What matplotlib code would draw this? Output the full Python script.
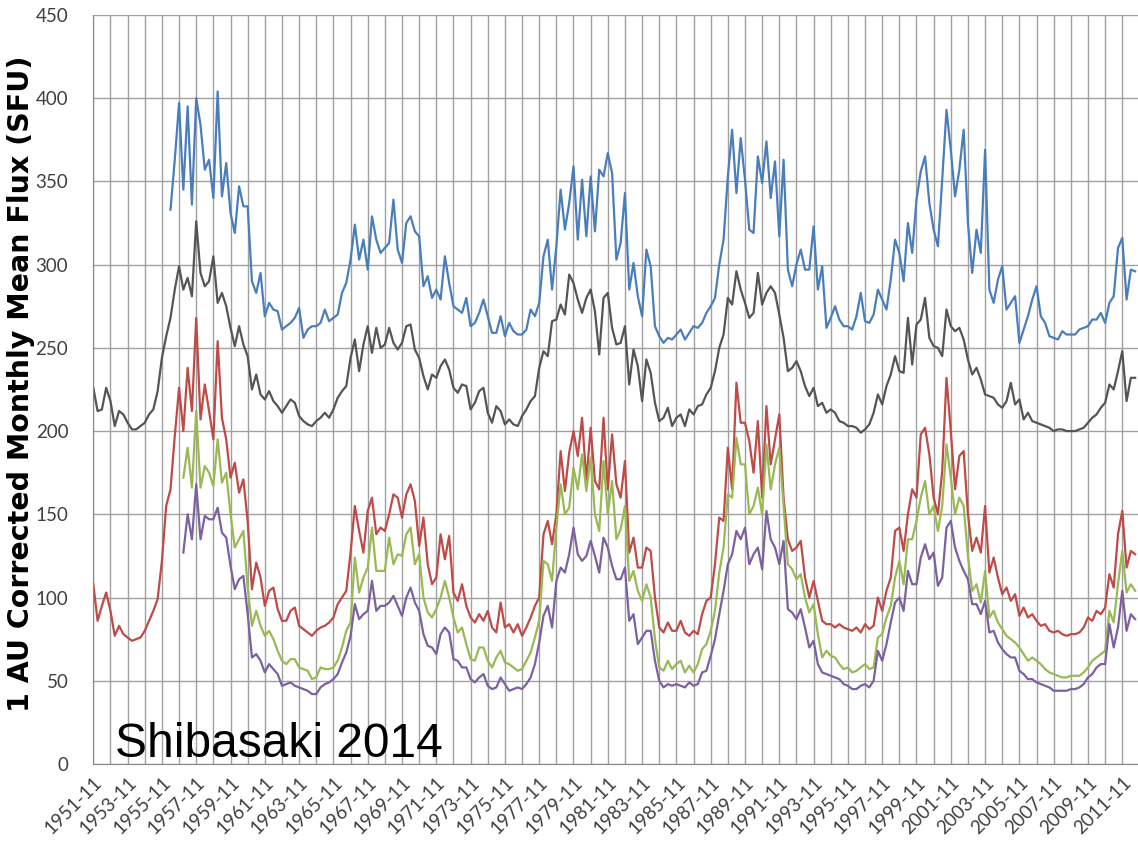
import numpy as np
import matplotlib
matplotlib.use("Agg")
import matplotlib.pyplot as plt

# quarterly samples (Nov, Feb, May, Aug) from 1951-11, month index 0, 3, 6, ...
months = np.arange(0, 732, 3)
nan = np.nan

red = [108, 86, 95, 103, 92, 77, 83, 78, 76, 74, 75, 76, 80, 86, 92, 99,
       122, 155, 165, 197, 226, 200, 238, 212, 268, 207, 228, 212, 195, 254, 208, 195,
       172, 181, 163, 171, 146, 105, 121, 112, 95, 104, 106, 93, 86, 86, 92, 94,
       83, 81, 79, 77, 80, 82, 83, 85, 88, 96, 100, 104, 127, 155, 140, 127,
       152, 160, 138, 142, 140, 150, 162, 160, 148, 162, 168, 158, 131, 148, 120, 108,
       112, 138, 123, 137, 103, 98, 108, 95, 88, 85, 90, 86, 92, 82, 79, 97,
       82, 84, 79, 84, 77, 82, 88, 95, 100, 138, 146, 132, 150, 188, 164, 187,
       200, 185, 208, 170, 202, 170, 165, 208, 165, 198, 168, 160, 182, 127, 136, 118,
       118, 130, 128, 100, 82, 79, 85, 80, 80, 86, 79, 77, 80, 78, 90, 98,
       100, 120, 148, 146, 190, 165, 229, 205, 205, 194, 175, 206, 160, 215, 180, 195,
       210, 160, 135, 128, 130, 134, 112, 100, 110, 98, 86, 84, 84, 82, 84, 82,
       81, 80, 82, 79, 84, 81, 83, 100, 92, 104, 112, 140, 142, 128, 150, 165,
       160, 198, 202, 186, 160, 150, 176, 232, 200, 165, 185, 188, 150, 128, 136, 127,
       155, 115, 124, 112, 102, 106, 98, 102, 89, 94, 88, 90, 86, 83, 84, 80,
       79, 80, 78, 77, 78, 78, 79, 82, 88, 86, 92, 90, 94, 114, 106, 138,
       152, 118, 128, 126]

grey = [226, 212, 213, 226, 218, 203, 212, 210, 205, 201, 201, 203, 205, 210, 213, 224,
        244, 257, 268, 285, 299, 285, 292, 281, 326, 295, 287, 290, 305, 277, 283, 275,
        262, 251, 263, 252, 245, 225, 234, 222, 219, 224, 218, 215, 211, 215, 219, 217,
        209, 206, 204, 203, 206, 208, 211, 208, 213, 220, 224, 227, 244, 255, 236, 252,
        263, 247, 262, 250, 252, 262, 253, 249, 253, 263, 264, 249, 244, 233, 225, 234,
        232, 239, 243, 237, 226, 223, 228, 227, 213, 217, 224, 226, 211, 205, 215, 212,
        204, 207, 204, 203, 209, 213, 218, 221, 238, 248, 245, 266, 267, 276, 270, 294,
        289, 279, 271, 280, 285, 272, 246, 280, 283, 262, 252, 253, 263, 228, 249, 239,
        218, 243, 235, 217, 206, 208, 214, 203, 208, 210, 203, 213, 210, 215, 216, 222,
        226, 236, 250, 258, 280, 276, 296, 285, 277, 268, 271, 295, 276, 283, 287, 283,
        270, 256, 236, 238, 242, 236, 227, 221, 226, 215, 217, 211, 213, 211, 206, 205,
        203, 203, 202, 199, 201, 204, 211, 222, 216, 227, 234, 245, 236, 235, 268, 240,
        264, 267, 280, 256, 251, 250, 245, 273, 263, 260, 262, 255, 243, 234, 238, 231,
        222, 221, 220, 216, 214, 218, 229, 216, 219, 207, 211, 206, 205, 204, 203, 202,
        200, 201, 201, 200, 200, 200, 201, 202, 205, 208, 210, 214, 217, 228, 225, 236,
        248, 218, 232, 232]

blue = [nan] * 18 + [
        333, 363, 397, 345, 395, 336, 400, 384, 357, 363, 340, 404, 341, 361,
        331, 319, 347, 335, 335, 290, 283, 295, 269, 277, 273, 272, 261, 263, 265, 268,
        274, 256, 261, 263, 263, 265, 273, 266, 268, 270, 283, 289, 303, 324, 303, 315,
        297, 329, 315, 307, 310, 313, 339, 309, 301, 325, 329, 320, 317, 287, 293, 280,
        285, 279, 305, 289, 275, 273, 271, 280, 263, 265, 271, 279, 269, 259, 259, 269,
        257, 265, 260, 258, 258, 261, 273, 269, 277, 305, 315, 285, 311, 345, 321, 337,
        359, 315, 351, 317, 353, 320, 357, 353, 367, 355, 303, 313, 343, 285, 301, 281,
        269, 309, 299, 263, 257, 253, 256, 255, 258, 261, 255, 259, 263, 262, 265, 271,
        275, 280, 300, 315, 353, 381, 343, 376, 351, 321, 319, 365, 349, 374, 340, 362,
        317, 363, 297, 287, 300, 309, 297, 297, 323, 285, 299, 262, 268, 275, 267, 263,
        263, 261, 269, 283, 266, 265, 270, 285, 279, 273, 291, 315, 307, 290, 325, 307,
        339, 356, 365, 337, 321, 311, 351, 393, 369, 341, 357, 381, 325, 295, 321, 307,
        369, 285, 277, 291, 299, 273, 277, 281, 253, 261, 269, 279, 287, 269, 265, 257,
        256, 255, 260, 258, 258, 258, 261, 262, 263, 267, 267, 271, 265, 277, 281, 310,
        316, 279, 297, 296]

green = [nan] * 21 + [
        172, 190, 166, 212, 166, 179, 175, 167, 195, 169, 175,
        150, 130, 135, 140, 106, 83, 92, 83, 77, 80, 75, 68, 62, 60, 63, 63,
        58, 57, 56, 51, 52, 58, 57, 57, 58, 62, 70, 80, 85, 124, 103, 112,
        118, 142, 116, 116, 116, 136, 120, 126, 125, 138, 142, 120, 126, 100, 91, 88,
        93, 100, 110, 100, 88, 79, 82, 72, 63, 62, 70, 70, 62, 58, 64, 68,
        61, 60, 58, 56, 57, 62, 67, 76, 86, 122, 120, 110, 142, 168, 150, 154,
        178, 165, 186, 164, 184, 150, 140, 182, 150, 170, 135, 141, 155, 110, 116, 104,
        98, 108, 100, 75, 58, 56, 62, 57, 60, 62, 55, 59, 55, 60, 69, 72,
        80, 92, 115, 130, 162, 160, 196, 180, 180, 150, 155, 166, 150, 192, 165, 180,
        190, 155, 120, 117, 111, 114, 100, 91, 96, 78, 64, 68, 65, 64, 60, 57,
        58, 55, 56, 58, 60, 57, 58, 76, 78, 88, 95, 112, 122, 108, 135, 135,
        146, 160, 170, 150, 155, 140, 155, 192, 172, 150, 160, 155, 125, 104, 108, 97,
        116, 88, 92, 85, 81, 77, 75, 73, 70, 66, 62, 64, 62, 60, 57, 55,
        54, 53, 52, 52, 53, 53, 53, 55, 58, 62, 64, 66, 68, 92, 85, 108,
        128, 103, 108, 104]

purple = [nan] * 21 + [
        127, 150, 135, 168, 135, 149, 147, 147, 154, 139, 136,
        119, 105, 111, 113, 90, 64, 66, 62, 55, 60, 57, 54, 47, 48, 49, 47,
        46, 45, 44, 42, 42, 46, 48, 49, 51, 54, 61, 67, 77, 96, 87, 90,
        92, 110, 92, 95, 95, 97, 101, 95, 89, 100, 106, 97, 92, 78, 71, 70,
        66, 78, 82, 79, 63, 62, 58, 58, 51, 49, 52, 54, 47, 45, 46, 52,
        48, 44, 45, 46, 45, 48, 52, 60, 73, 89, 95, 82, 110, 118, 115, 126,
        142, 126, 122, 125, 134, 125, 115, 136, 130, 119, 111, 111, 118, 86, 90, 72,
        76, 80, 80, 62, 50, 46, 48, 47, 48, 47, 46, 49, 47, 48, 55, 56,
        65, 75, 90, 104, 120, 126, 140, 135, 142, 120, 126, 130, 117, 152, 135, 130,
        120, 134, 93, 91, 87, 93, 82, 70, 74, 60, 55, 54, 53, 52, 51, 48,
        47, 45, 45, 47, 48, 46, 50, 68, 62, 72, 85, 97, 100, 92, 116, 108,
        108, 124, 132, 123, 127, 107, 112, 142, 146, 130, 122, 116, 111, 96, 96, 90,
        98, 79, 80, 73, 69, 66, 64, 64, 56, 54, 51, 51, 49, 48, 47, 46,
        44, 44, 44, 44, 45, 45, 46, 48, 52, 54, 58, 60, 60, 84, 70, 82,
        104, 80, 90, 87]

tick_labels = [f"{y}-11" for y in range(1951, 2012, 2)]

fig = plt.figure(figsize=(11.38, 8.47), dpi=100)
ax = fig.add_axes([0.082, 0.098, 0.918, 0.8844])

series = [(blue, '#4A7EBB'), (grey, '#555555'), (red, '#BE4B48'),
          (green, '#98B954'), (purple, '#7D60A0')]
for vals, col in series:
    ax.plot(months, vals, color=col, lw=1.6)

ax.set_xlim(0, 731)
ax.set_ylim(0, 450)
ax.set_yticks(np.arange(0, 451, 50))
ax.set_xticks(np.arange(0, 732, 12))
ax.set_xticklabels([tick_labels[i // 2] if i % 2 == 0 else '' for i in range(61)],
                   rotation=45, ha='right', rotation_mode='anchor')
ax.grid(True, color='#A0A0A0', lw=1)
ax.set_axisbelow(True)
for s in ['top', 'right']:
    ax.spines[s].set_visible(False)
for s in ['left', 'bottom']:
    ax.spines[s].set_color('#868686')
ax.tick_params(length=0, labelcolor='#404040', labelsize=13.5)
ax.tick_params(axis='y', pad=18)
ax.tick_params(axis='x', pad=7)
for lab in ax.get_xticklabels() + ax.get_yticklabels():
    lab.set_family('Lato')

ax.text(-0.0695, 0.507, '1 AU Corrected Monthly Mean Flux (SFU)', transform=ax.transAxes,
        rotation=90, ha='center', va='center', fontsize=20.5, fontweight='bold',
        family='DejaVu Sans')
fig.text(0.101, 0.106, 'Shibasaki 2014', fontsize=34.5, family='Liberation Sans',
         va='baseline')

fig.savefig('out.png', dpi=100)
